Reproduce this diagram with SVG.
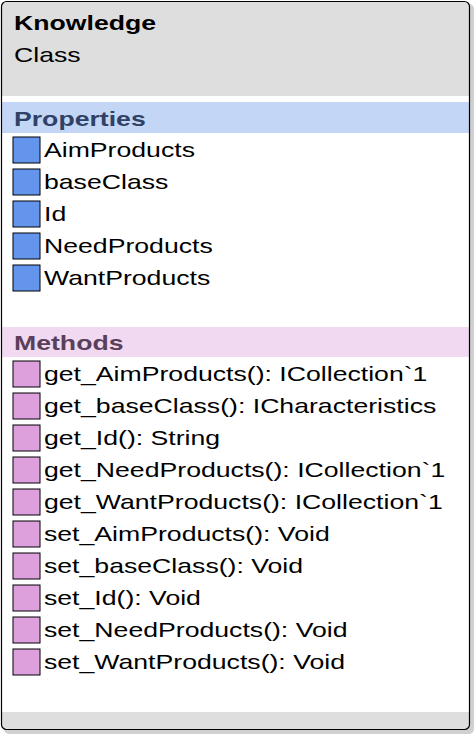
<svg xmlns="http://www.w3.org/2000/svg" width="476" height="736" viewBox="0 0 476 736">
<style>
text{font-family:"Liberation Sans",Arial,sans-serif;font-size:20px;fill:#000}
.b{font-weight:bold}
.ph{fill:#2f4266;font-weight:bold}
.mh{fill:#5a3f5a;font-weight:bold}
.pi{fill:#6495ed;stroke:#000;stroke-width:1}
.mi{fill:#dda0dd;stroke:#000;stroke-width:1}
</style>
<defs>
<clipPath id="c"><rect x="1.5" y="1.5" width="468" height="728" rx="5"/></clipPath>
</defs>
<g id="shadow"><rect x="4" y="4" width="470" height="730" rx="5" fill="#d0d0d0"/></g>
<g id="class-Knowledge">
<rect x="1.5" y="1.5" width="468" height="728" rx="5" fill="#fff"/>
<g clip-path="url(#c)">
<rect x="0" y="0" width="472" height="96" fill="#dedede"/>
<rect x="0" y="102" width="472" height="31" fill="#c4d6f6"/>
<rect x="0" y="327" width="472" height="30" fill="#f2d9f2"/>
<rect x="0" y="712" width="472" height="20" fill="#dedede"/>
</g>
<rect x="1.5" y="1.5" width="468" height="728" rx="5" fill="none" stroke="#000" stroke-width="1.2"/>
<g transform="matrix(1.333 0 0 1 0 0)">
<text x="10.5" y="30" class="b">Knowledge</text>
<text x="10.5" y="62">Class</text>
<text x="10.5" y="126" class="ph">Properties</text>
<text x="33" y="157">AimProducts</text>
<text x="33" y="189">baseClass</text>
<text x="33" y="221">Id</text>
<text x="33" y="253">NeedProducts</text>
<text x="33" y="285">WantProducts</text>
<text x="10.5" y="350" class="mh">Methods</text>
<text x="33" y="381">get_AimProducts(): ICollection`1</text>
<text x="33" y="413">get_baseClass(): ICharacteristics</text>
<text x="33" y="445">get_Id(): String</text>
<text x="33" y="477">get_NeedProducts(): ICollection`1</text>
<text x="33" y="509">get_WantProducts(): ICollection`1</text>
<text x="33" y="541">set_AimProducts(): Void</text>
<text x="33" y="573">set_baseClass(): Void</text>
<text x="33" y="605">set_Id(): Void</text>
<text x="33" y="637">set_NeedProducts(): Void</text>
<text x="33" y="669">set_WantProducts(): Void</text>
</g>
<rect class="pi" x="13" y="137" width="27" height="26"/>
<rect class="pi" x="13" y="169" width="27" height="26"/>
<rect class="pi" x="13" y="201" width="27" height="26"/>
<rect class="pi" x="13" y="233" width="27" height="26"/>
<rect class="pi" x="13" y="265" width="27" height="26"/>
<rect class="mi" x="13" y="361" width="27" height="26"/>
<rect class="mi" x="13" y="393" width="27" height="26"/>
<rect class="mi" x="13" y="425" width="27" height="26"/>
<rect class="mi" x="13" y="457" width="27" height="26"/>
<rect class="mi" x="13" y="489" width="27" height="26"/>
<rect class="mi" x="13" y="521" width="27" height="26"/>
<rect class="mi" x="13" y="553" width="27" height="26"/>
<rect class="mi" x="13" y="585" width="27" height="26"/>
<rect class="mi" x="13" y="617" width="27" height="26"/>
<rect class="mi" x="13" y="649" width="27" height="26"/>
</g>
<g id="connectors"/>
</svg>
